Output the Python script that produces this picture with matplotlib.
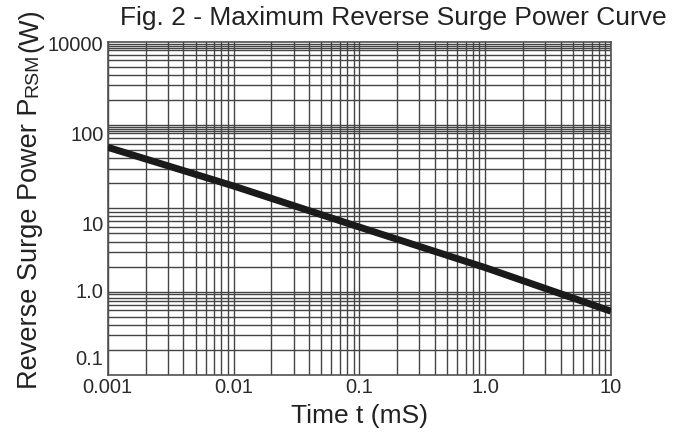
import numpy as np
import matplotlib
matplotlib.use('Agg')
import matplotlib.pyplot as plt
from matplotlib.ticker import FixedLocator, NullFormatter

plt.rcParams['font.family'] = ['Liberation Sans', 'DejaVu Sans']

# curve (in the units printed on the axes)
time_ms = [0.001, 0.01, 0.1, 1.0, 10]
power_w = [70, 26, 8.8, 2.2, 0.49]

x_tick_values = [0.001, 0.01, 0.1, 1.0, 10]
x_tick_labels = ['0.001', '0.01', '0.1', '1.0', '10']
y_tick_values = [0.1, 1.0, 10, 100, 10000]
y_tick_labels = ['0.1', '1.0', '10', '100', '10000']

# the printed y labels sit unevenly on a 4-decade log paper;
# position of each label on that paper, in decades from the bottom edge
label_paper = [0.216, 1.012, 1.820, 2.900, 3.98]

L = list(np.log10(y_tick_values))
P = list(label_paper)
lo_slope = (P[1] - P[0]) / (L[1] - L[0])
hi_slope = (P[-1] - P[-2]) / (L[-1] - L[-2])
L_ext = np.array([L[0] - 20] + L + [L[-1] + 20])
P_ext = np.array([P[0] - 20 * lo_slope] + P + [P[-1] + 20 * hi_slope])


def forward(v):
    v = np.clip(np.asarray(v, dtype=float), 1e-30, None)
    return np.interp(np.log10(v), L_ext, P_ext)


def inverse(p):
    return 10 ** np.interp(np.asarray(p, dtype=float), P_ext, L_ext)


# grid lines printed on the paper, per decade (bottom decade = 0)
paper_marks = {
    0: [2, 3, 4, 5, 6, 7, 7.7, 8.5, 9.3],
    1: [2, 3, 4, 5, 6, 7, 8, 9],
    2: [2, 3, 4, 5, 6, 7, 8, 8.5, 9, 9.5],
    3: [2, 3, 4, 5, 6, 7, 8, 8.5, 9, 9.5],
}
p_grid = [1.0, 2.0, 3.0]
for d, marks in paper_marks.items():
    p_grid += [d + np.log10(m) for m in marks]

fig = plt.figure(figsize=(6.81, 4.34), dpi=100)
ax = fig.add_axes([107.7 / 681, 1 - 375 / 434, (611 - 107.7) / 681, (375 - 41.7) / 434])

ax.set_xscale('log')
ax.set_yscale('function', functions=(forward, inverse))
ax.set_xlim(0.001, 10)
ax.set_ylim(inverse(0), inverse(4))

grid_kw = dict(color='#444444', linewidth=1.0)
ax.grid(axis='x', which='both', **grid_kw)
ax.yaxis.set_minor_locator(FixedLocator(inverse(np.array(p_grid))))
ax.yaxis.set_minor_formatter(NullFormatter())
ax.grid(axis='y', which='minor', **grid_kw)
ax.grid(axis='y', which='major', visible=False)

ax.set_xticks(x_tick_values, x_tick_labels)
ax.set_yticks(y_tick_values, y_tick_labels)
ax.tick_params(which='both', length=0, labelsize=14.5, colors='#2a2a2a')
ax.tick_params(axis='x', pad=2)
ax.tick_params(axis='y', pad=3)
for s in ax.spines.values():
    s.set_color('#505050')
    s.set_linewidth(1.2)

ax.plot(time_ms, power_w, color='#1a1a1a', linewidth=5, solid_capstyle='butt', zorder=5)

ax.set_xlabel('Time t (mS)', fontsize=19, color='#222222', labelpad=5)

fig.text(120 / 681, 1 - 18 / 434, 'Fig. 2 - Maximum Reverse Surge Power Curve',
         fontsize=19, color='#222222', ha='left', va='center')

# y label: large "P", small "RSM" on the same baseline
renderer = fig.canvas.get_renderer()
x_base = 37 / 681
y_pos = 1 - 389 / 434
for txt, size in [('Reverse Surge Power P', 19.5), ('RSM', 14), ('(W)', 19.5)]:
    t = fig.text(x_base, y_pos, txt, fontsize=size, color='#222222', rotation=90,
                 rotation_mode='anchor', ha='left', va='baseline')
    bb = t.get_window_extent(renderer)
    y_pos = bb.y1 / fig.bbox.height + 1 / 434

fig.savefig('out.png', dpi=100)
